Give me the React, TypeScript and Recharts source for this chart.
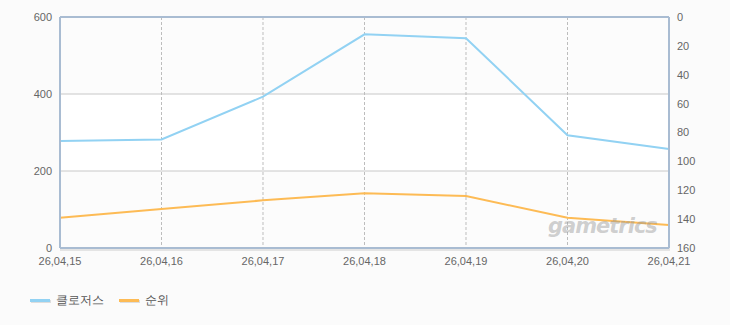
import { LineChart, Line, XAxis, YAxis, CartesianGrid, ReferenceLine } from 'recharts';

const dates = ['26,04,15', '26,04,16', '26,04,17', '26,04,18', '26,04,19', '26,04,20', '26,04,21'];
const closers = [278, 282, 393, 555, 545, 293, 257];
const rank = [139, 133, 127, 122, 124, 139, 144];
const leftTicks = [0, 200, 400, 600];
const rightTicks = [0, 20, 40, 60, 80, 100, 120, 140, 160];

const BLUE = '#92d2f3';
const ORANGE = '#fdbb55';
const AXIS = '#a9bcd2';
const FONT = '"Liberation Sans", Arial, sans-serif';

const chartData = dates.map((d, i) => ({ date: d, closers: closers[i], rank: rank[i] }));

const legendItems = [
  { name: '클로저스', color: BLUE },
  { name: '순위', color: ORANGE },
];

export default function App() {
  const tick = { fill: '#666', fontSize: 11, fontFamily: FONT };
  return (
    <div style={{ position: 'absolute', left: 0, top: 0, width: 730, height: 325, background: '#fbfbfb', fontFamily: FONT }}>
      <div style={{ position: 'absolute', left: 60, top: 248, width: 610, height: 3, background: '#e4e4e4' }} />
      <LineChart width={730} height={270} data={chartData} margin={{ top: 17, right: 0, left: 0, bottom: 0 }}
        style={{ position: 'absolute', left: 0, top: 0 }}>
        <CartesianGrid yAxisId="l" vertical={false} stroke="#c8c8c8"
          horizontalFill={['#fcfcfc', '#ffffff', '#fcfcfc']} fillOpacity={1} />
        <CartesianGrid yAxisId="l" horizontal={false} stroke="#bdbdbd" strokeDasharray="3 2" />
        <ReferenceLine yAxisId="l" y={600} stroke={AXIS} strokeWidth={2} />
        <XAxis dataKey="date" height={22} tick={tick} tickLine={false} tickMargin={3}
          axisLine={{ stroke: AXIS, strokeWidth: 2 }} interval={0} />
        <YAxis yAxisId="l" domain={[0, 600]} ticks={leftTicks} width={60} tick={tick} tickLine={false}
          tickMargin={2} axisLine={{ stroke: AXIS, strokeWidth: 2 }} />
        <YAxis yAxisId="r" orientation="right" reversed domain={[0, 160]} ticks={rightTicks} width={61}
          tick={tick} tickLine={false} tickMargin={2} axisLine={{ stroke: AXIS, strokeWidth: 2 }} />
        <Line yAxisId="l" type="linear" dataKey="closers" stroke={BLUE} strokeWidth={2} dot={false} isAnimationActive={false} />
        <Line yAxisId="r" type="linear" dataKey="rank" stroke={ORANGE} strokeWidth={2} dot={false} isAnimationActive={false} />
      </LineChart>
      <div style={{ position: 'absolute', left: 548, top: 214, fontSize: 21, fontWeight: 'bold', fontStyle: 'italic',
        color: 'rgba(150,150,150,0.45)', fontFamily: '"DejaVu Sans", sans-serif', letterSpacing: -1, pointerEvents: 'none' }}>gametrics</div>
      <div style={{ position: 'absolute', left: 30, top: 292, display: 'flex', alignItems: 'center', fontSize: 12, color: '#555' }}>
        {legendItems.map(it => (
          <div key={it.name} style={{ display: 'flex', alignItems: 'center', marginRight: 15 }}>
            <span style={{ display: 'inline-block', width: 20, height: 3, background: it.color, boxShadow: '1px 1px 0 #ddd', marginRight: 6 }} />
            <span>{it.name}</span>
          </div>
        ))}
      </div>
    </div>
  );
}
